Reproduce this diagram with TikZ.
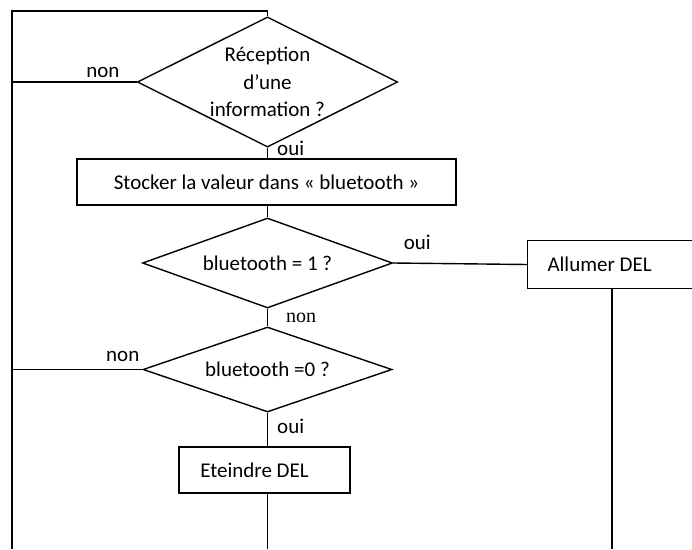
\documentclass[tikz,border=0pt]{standalone}
\usepackage{fontspec}
\setmainfont{Carlito}
\newfontfamily\serifnon{Liberation Serif}
\usetikzlibrary{shapes.geometric}

\tikzset{
	trait/.style={line width=1.4pt, color=black},
	boite/.style={draw, line width=1.4pt, rectangle, inner sep=0pt, align=center, font=\fontsize{21}{27.5}\selectfont},
	losange/.style={draw, line width=1.4pt, diamond, inner sep=1pt, aspect=2, align=center, font=\fontsize{21}{27.5}\selectfont},
	etiq/.style={inner sep=4pt, font=\fontsize{21}{25}\selectfont}
}

\begin{document}
\begin{tikzpicture}[x=1pt, y=1pt]
			%%%%% START %%%%%
			\useasboundingbox (0, 0) rectangle (692, -549);
			
			\coordinate (haut) at (267.5, -11);
			\coordinate (hautgauche) at (12, -11);
			\coordinate (basgauche) at (12, -549);
			\coordinate (bas) at (267.5, -549);
			
			\node[losange, minimum width=249pt, minimum height=120pt] (reception) at (267.5, -82) {R\'eception\\d'une\\information ?};
			\node[boite, minimum width=379pt, minimum height=46pt] (stocker) at (266.5, -182) {Stocker la valeur dans « bluetooth »};
			\node[losange, minimum width=250pt, minimum height=90pt] (test1) at (267.5, -263) {bluetooth = 1 ?};
			\node[losange, minimum width=249pt, minimum height=85pt] (test0) at (267.5, -369.5) {bluetooth =0 ?};
			\node[boite, minimum width=171pt, minimum height=46pt, label={[etiq, xshift=-10pt]center:Eteindre DEL}] (eteindre) at (264.5, -470) {};
			% boite coupee par le bord droit
			\node[boite, draw=none, minimum width=200pt, minimum height=47pt, label={[etiq, anchor=west, xshift=16pt]west:Allumer DEL}] (allumer) at (628, -264.5) {};
			\draw[trait] (allumer.north east) -- (allumer.north west) -- (allumer.south west) -- (allumer.south east);
			
			% boucle
			\draw[trait] (reception.north) -- (haut) -- (hautgauche) -- (basgauche);
			\draw[trait] (reception.west) -- node[etiq, above, pos=0.27] {non} (reception.west -| hautgauche);
			\draw[trait] (reception.south) -- node[etiq, right, xshift=5pt, yshift=5pt] {oui} (reception.south |- stocker.north);
			\draw[trait] (stocker.south -| reception.south) -- (test1.north);
			
			\draw[trait] (test1.east) -- node[etiq, above, pos=0.18, yshift=9pt] {oui} (allumer.west);
			\draw[trait] ([xshift=-16pt]allumer.south) -- ([xshift=-16pt]allumer.south |- bas);
			\draw[trait] (test1.south) -- node[etiq, right, xshift=14pt, font=\serifnon\fontsize{20}{24}\selectfont] {non} (test0.north);
			
			\draw[trait] (test0.west) -- node[etiq, above, pos=0.15, yshift=3pt] {non} (test0.west -| hautgauche);
			\draw[trait] (test0.south) -- node[etiq, right, xshift=5pt, yshift=3pt] {oui} (test0.south |- eteindre.north);
			\draw[trait] (eteindre.south -| test0.south) -- (bas);
			%%%%% END %%%%%
\end{tikzpicture}
\end{document}
